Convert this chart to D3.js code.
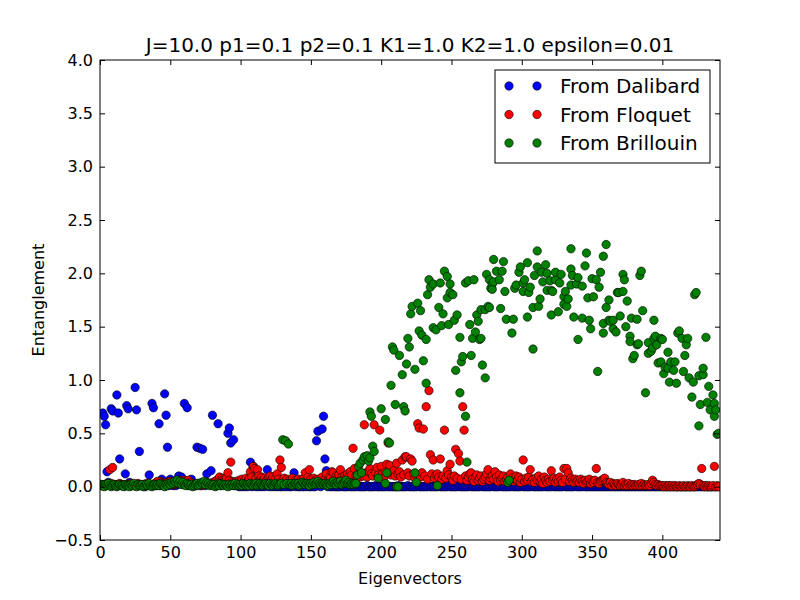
<!DOCTYPE html>
<html>
<head>
<meta charset="utf-8">
<script src="https://cdn.jsdelivr.net/npm/d3@7"></script>
<style>
body { margin: 0; background: #fff; }
svg { font-family: "DejaVu Sans", sans-serif; }
</style>
</head>
<body>
<svg id="chart"></svg>
<script>
// entanglement per eigenvector index (0..440)
const dalibard = [
0.02,0.01,0.69,0.66,0.58,0.14,0.04,0.01,0.73,0.71, 0.02,0.01,0.86,0.69,0.26,0.01,0.02,0.01,0.12,0.76,
0.73,0.04,0.01,0.02,0.01,0.93,0.72,0.02,0.33,0.01, 0.02,0.01,0,0.01,0.02,0.11,0.01,0.78,0.74,0.02,
0.01,0.02,0.59,0.01,0.07,0.02,0.87,0.67,0.37,0.01, 0.07,0.02,0.01,0.03,0.01,0.02,0.10,0.03,0.09,0.02,
0.78,0.02,0.74,0.01,0.03,0.07,0.01,0.02,0.01,0.37, 0.02,0.36,0.01,0.35,0.02,0.01,0.12,0.03,0.02,0.15,
0.67,0.02,0.01,0.03,0.59,0.02,0.01,0.04,0.02,0.03, 0.01,0.50,0.55,0.41,0.02,0.44,0.01,0.02,0.01,0,
0.01,0,0.02,0,0.01,0,0.02,0.23,0,0.19, 0.01,0,0.02,0,0.01,0,0.01,0,0.02,0.16,
0,0.01,0,0.01,0,0.02,0,0.01,0,0, 0.01,0,0.02,0,0.01,0,0,0.01,0.13,0,
0.01,0,0,0.01,0,0,0.02,0,0.01,0, 0,0.01,0,0,0.43,0.52,0.01,0,0.54,0.66,
0.26,0.15,0,0.01,0,0,0.01,0,0,0, 0,0,0.01,0,0,0,0,0.01,0,0,
0,0,0,0.01,0,0,0,0,0,0, 0.01,0,0,0,0,0,0.01,0,0,0,
0,0,0,0,0.01,0,0,0,0,0, 0,0,0.01,0,0,0,0,0,0,0.01,
0,0,0,0,0,0,0.01,0,0,0, 0,0,0,0,0.01,0,0,0,0,0,
0,0.01,0,0,0,0,0,0,0.01,0, 0,0,0,0,0,0.01,0,0,0,0,
0,0,0,0.01,0,0,0,0,0,0, 0,0.01,0,0,0,0,0,0,0,0.01,
0,0,0,0,0,0.01,0,0,0,0, 0,0,0,0.01,0,0,0,0,0,0,
0.01,0,0,0,0,0,0,0.01,0,0, 0,0,0,0,0,0,0.01,0,0,0,
0,0,0.01,0,0,0,0,0,0,0, 0.01,0,0,0,0,0,0,0,0.01,0,
0,0,0,0,0.01,0,0,0,0,0, 0,0,0,0,0,0,0,0,0,0,
0,0,0,0,0,0,0,0,0,0, 0,0,0,0,0,0,0,0,0,0,
0,0,0,0,0,0,0,0,0,0, 0,0,0,0,0,0,0,0,0,0,
0,0,0,0,0,0,0,0,0,0, 0,0,0,0,0,0,0,0,0,0,
0,0,0,0,0,0,0,0,0,0, 0,0,0,0,0,0,0,0,0,0,
0
];

const floquet = [
0.01,0.02,0.01,0.02,0.01,0.03,0.02,0.16,0.03,0.18, 0.02,0.01,0.02,0.01,0.03,0.02,0.01,0.02,0.01,0.02,
0.01,0.02,0.03,0.01,0.02,0.01,0.02,0.03,0.01,0.02, 0.01,0.02,0.01,0.03,0.02,0.01,0.02,0.01,0.02,0.03,
0.04,0.05,0.03,0.05,0.04,0.02,0.03,0.02,0.04,0.03, 0.05,0.02,0.03,0.02,0.04,0.03,0.05,0.06,0.04,0.03,
0.06,0.05,0.03,0.06,0.04,0.02,0.03,0.02,0.01,0.02, 0.03,0.02,0.01,0.02,0.03,0.02,0.04,0.03,0.02,0.03,
0.04,0.03,0.05,0.06,0.05,0.09,0.06,0.08,0.07,0.08, 0.08,0.13,0.06,0.23,0.05,0.04,0.03,0.05,0.04,0.06,
0.05,0.07,0.04,0.06,0.08,0.05,0.07,0.14,0.09,0.19, 0.17,0.08,0.16,0.10,0.07,0.09,0.06,0.08,0.05,0.07,
0.09,0.10,0.06,0.09,0.05,0.08,0.12,0.07,0.25,0.18, 0.06,0.08,0.05,0.07,0.04,0.06,0.05,0.08,0.04,0.06,
0.05,0.07,0.04,0.06,0.05,0.08,0.13,0.06,0.09,0.16, 0.07,0.05,0.08,0.06,0.04,0.07,0.05,0.06,0.09,0.05,
0.07,0.12,0.06,0.09,0.08,0.14,0.13,0.07,0.10,0.08, 0.11,0.16,0.09,0.07,0.10,0.08,0.12,0.09,0.14,0.11,
0.36,0.17,0.10,0.08,0.12,0.09,0.11,0.10,0.58,0.13, 0.09,0.14,0.17,0.12,0.10,0.58,0.13,0.18,0.11,0.53,
0.19,0.12,0.09,0.14,0.21,0.41,0.20,0.11,0.13,0.15, 0.10,0.22,0.12,0.14,0.09,0.25,0.11,0.28,0.28,0.13,
0.10,0.26,0.24,0.12,0.08,0.11,0.59,0.55,0.09,0.13, 0.54,0.10,0.75,0.07,0.90,0.30,0.12,0.25,0.08,0.11,
0.12,0.09,0.26,0.07,0.10,0.53,0.08,0.15,0.11,0.21, 0.09,0.06,0.10,0.35,0.08,0.31,0.24,0.07,0.75,0.53,
0.10,0.06,0.09,0.12,0.13,0.07,0.05,0.09,0.11,0.06, 0.08,0.10,0.05,0.07,0.09,0.12,0.16,0.06,0.08,0.10,
0.07,0.14,0.09,0.05,0.11,0.06,0.08,0.10,0.05,0.07, 0.09,0.06,0.12,0.08,0.05,0.07,0.10,0.06,0.09,0.04,
0.07,0.25,0.05,0.08,0.06,0.09,0.16,0.05,0.07,0.04, 0.08,0.06,0.10,0.05,0.07,0.03,0.09,0.06,0.04,0.07,
0.05,0.15,0.06,0.08,0.04,0.07,0.05,0.09,0.06,0.04, 0.17,0.07,0.17,0.13,0.05,0.08,0.06,0.04,0.07,0.05,
0.06,0.04,0.07,0.05,0.03,0.06,0.04,0.05,0.07,0.03, 0.05,0.04,0.06,0.17,0.04,0.03,0.05,0.06,0.07,0.08,
0.04,0.03,0.02,0.04,0.01,0.03,0.02,0.01,0.03,0.02, 0.01,0.02,0.04,0.01,0.02,0.01,0.03,0.01,0.02,0.01,
0.02,0.01,0.01,0.02,0.01,0.03,0.01,0.02,0.01,0.01, 0.02,0.01,0.03,0.06,0.04,0.02,0.01,0.02,0.01,0.01,
0.01,0,0.01,0,0.01,0.01,0,0.01,0,0.01, 0,0,0.01,0,0,0.01,0,0,0.01,0,
0,0.01,0,0,0.01,0.02,0.03,0.02,0.17,0.01, 0,0.01,0,0.01,0,0,0.01,0.19,0,0.01,
0
];

// Brillouin: indices 0..181 sit on the floor, the rest form the arch
const brillouinLow = [
0.01,0.02,0.01,0,0.02,0.01,0.03,0.01,0,0.01, 0.02,0.01,0,0.01,0.02,0.01,0.01,0,0.02,0.01,
0.01,0,0.02,0.01,0.03,0.01,0,0.02,0.01,0.01, 0.02,0,0.01,0.02,0.01,0.03,0.01,0,0.01,0.02,
0.01,0.02,0.01,0.03,0.02,0.01,0,0.02,0.01,0.03, 0.02,0.04,0.03,0.05,0.04,0.06,0.03,0.05,0.02,0.04,
0.02,0.01,0.03,0.02,0.01,0.02,0,0.01,0.02,0.03, 0.01,0.02,0.04,0.03,0.05,0.02,0.04,0.03,0.01,0.02,
0.01,0.02,0,0.01,0.02,0.01,0.03,0.02,0.01,0.02, 0.01,0,0.02,0.01,0.02,0.01,0.03,0.01,0.02,0.01,
0.02,0.01,0.03,0.02,0.01,0.02,0.01,0.03,0.02,0.01, 0.02,0.03,0.01,0.02,0.03,0.02,0.01,0.02,0.03,0.02,
0.01,0.03,0.02,0.01,0.02,0.03,0.02,0.01,0.02,0.03, 0.44,0.02,0.43,0.03,0.40,0.02,0.03,0.01,0.02,0.03,
0.02,0.03,0.01,0.02,0.04,0.03,0.02,0.03,0.02,0.01, 0.03,0.02,0.04,0.02,0.03,0.05,0.03,0.02,0.03,0.02,
0.03,0.02,0.01,0.03,0.02,0.04,0.05,0.03,0.02,0.04, 0.03,0.05,0.02,0.03,0.04,0.06,0.03,0.04,0.02,0.03,
0.02,0.03
];

const brillouinHigh = [
[182,0.03],[183,0.11],[184,0.19],[185,0.22],[186,0.13],[187,0.25],[188,0.28],[190,0.29],[191,0.24],
[192,0.70],[192,0.27],[193,0.66],[194,0.38],[195,0.33],[198,0.08],[200,0.73],[203,0.63],[203,0.03],
[204,0.13],[205,0.42],[206,0.41],[207,0.95],[208,1.31],[209,1.28],[210,0.77],[211,0],[212,0],
[213,1.23],[215,1.05],[216,0.75],[217,0.71],[218,1.15],[219,1.39],[220,1.31],[221,1.62],[222,1.69],
[224,1.10],[224,0.13],[225,0.04],[226,1.72],[227,1.46],[228,1.65],[229,1.42],[230,1.18],[232,0.97],
[232,1.38],[233,1.80],[234,1.94],[235,1.87],[237,1.90],[237,1.49],[239,1.47],[240,0.01],[241,1.68],
[242,1.91],[243,1.51],[244,1.62],[245,2.02],[247,1.97],[247,1.77],[248,1.52],[249,1.90],[249,1.82],
[251,1.80],[252,1.56],[253,1.09],[254,1.61],[256,0.88],[256,1.40],[257,1.17],[258,1.22],[260,1.91],
[260,0.66],[261,0.23],[262,1.93],[263,1.52],[264,1.23],[265,1.39],[266,1.94],[267,1.45],[268,1.61],
[269,1.55],[270,1.38],[271,1.66],[271,1.39],[272,1.14],[274,1.66],[274,1.02],[275,1.99],[276,1.69],
[277,1.94],[277,1.68],[278,1.86],[279,1.90],[279,1.85],[280,1.92],[280,2.13],[282,2.02],[284,1.94],
[285,1.67],[286,2.02],[287,2.11],[288,1.83],[289,1.57],[290,0.04],[291,0.06],[293,1.44],[294,1.57],
[295,1.86],[296,1.89],[298,2.01],[299,2.06],[301,1.83],[301,1.91],[302,1.94],[304,2.10],[304,1.59],
[305,1.82],[306,1.87],[308,1.29],[308,1.68],[309,1.98],[311,2.21],[311,2.06],[312,1.69],[313,1.76],
[314,2.01],[315,1.92],[317,2.08],[318,2.00],[318,1.84],[320,1.93],[321,1.61],[321,1.84],[322,1.83],
[324,1.94],[324,2.01],[326,1.64],[327,1.91],[328,1.99],[330,1.78],[330,1.71],[331,1.83],[332,1.69],
[333,1.76],[335,2.23],[335,2.04],[335,1.89],[336,1.98],[337,1.59],[339,1.90],[340,1.38],[340,1.96],
[343,1.88],[343,1.58],[345,2.07],[346,2.19],[347,1.77],[348,1.56],[349,1.48],[350,1.95],[351,1.78],
[353,1.94],[354,1.08],[355,1.87],[356,2.01],[358,1.44],[358,2.16],[358,1.53],[360,2.27],[360,1.68],
[362,1.75],[362,1.56],[363,1.55],[365,1.56],[365,1.48],[367,1.45],[368,1.82],[369,1.82],[370,1.60],
[372,1.83],[372,1.99],[373,1.94],[374,1.50],[375,1.74],[377,1.41],[377,1.36],[378,1.58],[379,1.20],
[380,1.23],[382,1.33],[382,1.57],[383,1.34],[384,1.98],[385,2.02],[386,1.65],[388,0.88],[390,1.35],
[390,1.25],[392,1.27],[393,1.30],[394,1.39],[394,1.56],[395,1.41],[396,1.33],[397,1.16],[399,1.39],
[399,1.17],[400,1.38],[401,1.06],[402,1.12],[404,1.26],[404,1.11],[405,0.98],[406,1.17],[408,1.09],
[409,1.17],[410,0.97],[411,1.44],[412,1.46],[414,1.39],[415,1.08],[416,1.23],[417,1.33],[418,1.39],
[419,1.02],[421,0.84],[422,0.98],[423,1.80],[424,1.82],[426,1.04],[426,0.57],[427,0.77],[429,1.05],
[429,1.11],[431,1.40],[432,0.79],[433,0.94],[434,0.72],[436,0.86],[437,0.78],[437,0.66],[438,0.72],
[439,0.49],[440,0.50]
];

const xTicks = [0, 50, 100, 150, 200, 250, 300, 350, 400];
const yTicks = [-0.5, 0, 0.5, 1, 1.5, 2, 2.5, 3, 3.5, 4];
const seriesNames = ["From Dalibard", "From Floquet", "From Brillouin"];
const seriesColors = ["#0000ff", "#ff0000", "#008000"];
const title = "J=10.0 p1=0.1 p2=0.1 K1=1.0 K2=1.0 epsilon=0.01";

let W = 800, H = 600
let m = {t: 60, r: 80, b: 60, l: 100}

let svg = d3.select('#chart').attr('width', W).attr('height', H)

let x = d3.scaleLinear().domain([0, 441]).range([m.l, W - m.r])
let y = d3.scaleLinear().domain([-0.5, 4]).range([H - m.b, m.t])

svg.append('clipPath').attr('id', 'plotClip')
    .append('rect')
    .attr('x', m.l).attr('y', m.t)
    .attr('width', W - m.l - m.r).attr('height', H - m.t - m.b)

let pts = svg.append('g').attr('clip-path', 'url(#plotClip)')

function drawSeries(data, color){
    pts.append('g')
        .selectAll('circle')
        .data(data)
        .join('circle')
        .attr('cx', d => x(d[0]))
        .attr('cy', d => y(d[1]))
        .attr('r', 4.2)
        .attr('fill', color)
        .attr('stroke', '#000')
        .attr('stroke-width', 0.6)
}

drawSeries(dalibard.map((v, i) => [i, v]), seriesColors[0])
drawSeries(floquet.map((v, i) => [i, v]), seriesColors[1])
drawSeries(brillouinLow.map((v, i) => [i, v]).concat(brillouinHigh), seriesColors[2])

// axes, ticks pointing inwards on every side
let fmtY = d3.format('.1f')
svg.append('g')
    .attr('transform', `translate(0, ${H - m.b})`)
    .call(d3.axisBottom(x).tickValues(xTicks).tickSizeInner(-5).tickSizeOuter(0).tickPadding(7))
svg.append('g')
    .attr('transform', `translate(0, ${m.t})`)
    .call(d3.axisTop(x).tickValues(xTicks).tickSizeInner(-5).tickSizeOuter(0).tickFormat(''))
svg.append('g')
    .attr('transform', `translate(${m.l}, 0)`)
    .call(d3.axisLeft(y).tickValues(yTicks).tickSizeInner(-5).tickSizeOuter(0).tickPadding(7).tickFormat(fmtY))
svg.append('g')
    .attr('transform', `translate(${W - m.r}, 0)`)
    .call(d3.axisRight(y).tickValues(yTicks).tickSizeInner(-5).tickSizeOuter(0).tickFormat(''))

svg.selectAll('.domain').remove()
svg.selectAll('.tick line').attr('stroke', '#000')
svg.selectAll('.tick text').attr('font-size', 16).attr('font-family', '"DejaVu Sans", sans-serif').attr('fill', '#000')

svg.append('rect')
    .attr('x', m.l).attr('y', m.t)
    .attr('width', W - m.l - m.r).attr('height', H - m.t - m.b)
    .attr('fill', 'none').attr('stroke', '#000').attr('stroke-width', 1)

svg.append('text')
    .attr('x', (m.l + W - m.r) / 2).attr('y', 52)
    .attr('text-anchor', 'middle').attr('font-size', 20)
    .text(title)

svg.append('text')
    .attr('x', (m.l + W - m.r) / 2).attr('y', 584)
    .attr('text-anchor', 'middle').attr('font-size', 16)
    .text('Eigenvectors')

svg.append('text')
    .attr('transform', `translate(44, ${(m.t + H - m.b) / 2}) rotate(-90)`)
    .attr('text-anchor', 'middle').attr('font-size', 16)
    .text('Entanglement')

// legend
let leg = svg.append('g').attr('transform', 'translate(495, 70)')
leg.append('rect')
    .attr('width', 215).attr('height', 93)
    .attr('fill', '#fff').attr('stroke', '#000').attr('stroke-width', 1)

seriesNames.forEach((name, i) => {
    let row = leg.append('g').attr('transform', `translate(0, ${16 + i * 28.5})`)
    ;[14, 42].forEach(cx => {
        row.append('circle')
            .attr('cx', cx).attr('cy', 0).attr('r', 4.2)
            .attr('fill', seriesColors[i]).attr('stroke', '#000').attr('stroke-width', 0.6)
    })
    row.append('text')
        .attr('x', 65).attr('y', 7)
        .attr('font-size', 20)
        .text(name)
})
</script>
</body>
</html>
